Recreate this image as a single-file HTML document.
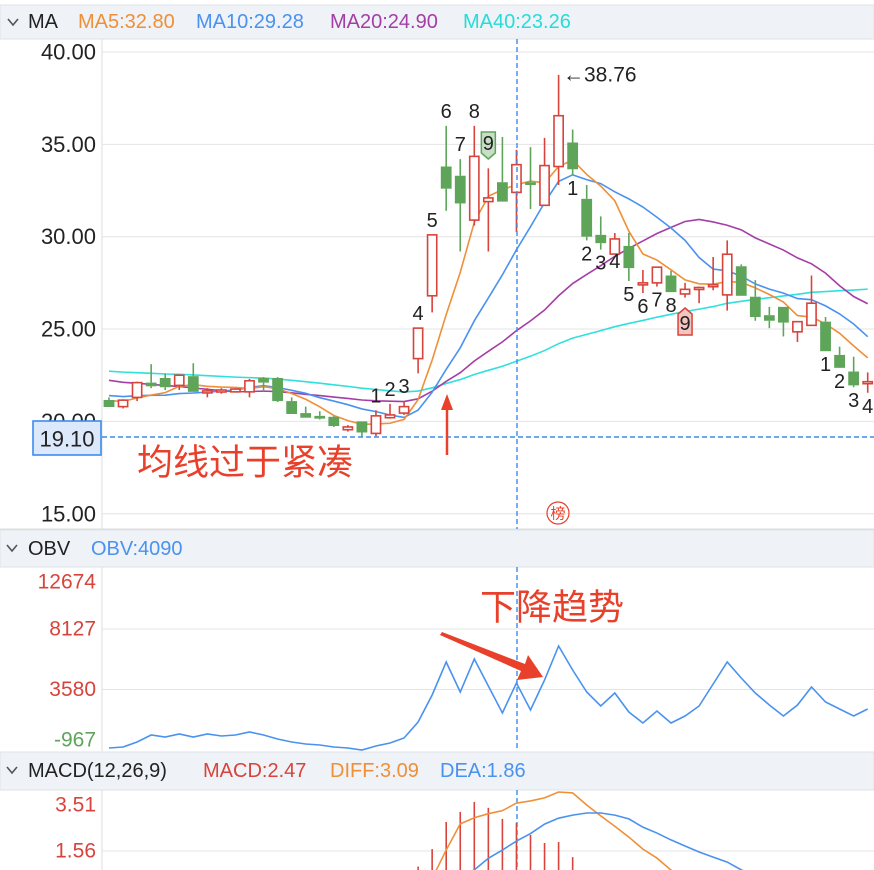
<!DOCTYPE html>
<html><head><meta charset="utf-8"><style>
html,body{margin:0;padding:0;background:#fff;}
svg{display:block;font-family:"Liberation Sans","Noto Sans CJK SC",sans-serif;}
</style></head><body>
<svg id="c" width="874" height="870" viewBox="0 0 874 870">
<rect x="0" y="0" width="874" height="870" fill="#fff"/>
<g id="main"></g>
</svg>
<script>
// ---- data ----
const preCloses=[23.1,23.3,23.2,23.4,23.1,23.0,23.3,23.2,23.4,23.3,23.1,23.2,23.0,23.3,23.4,23.2,23.1,23.3,23.2,23.1,23.3,23.2,23.0,23.2,23.4,23.3,23.1,23.2,23.0,21.8,21.7,21.6,21.7,21.8,21.6,21.3,21.2,21.1,21.2];
const opens=[21.16,20.8,21.3,22.1,22.35,21.95,22.45,21.55,21.6,21.6,21.6,22.35,22.35,21.1,20.45,20.3,20.25,19.55,20.0,19.35,20.2,20.45,23.4,26.8,33.8,33.3,30.9,31.9,32.95,32.4,32.95,31.7,33.8,35.1,32.05,30.1,29.06,29.5,27.45,27.5,27.9,26.9,27.2,27.3,26.85,28.4,26.75,25.75,26.2,24.85,25.2,25.4,23.6,22.7,22.05];
const closes=[20.78,21.15,22.1,21.9,21.85,22.5,21.6,21.65,21.7,21.75,22.2,22.1,21.1,20.4,20.2,20.15,19.75,19.7,19.4,20.3,20.35,20.8,25.05,30.1,32.6,31.8,34.35,32.1,31.9,33.9,32.8,33.85,36.55,33.65,30.0,29.65,29.88,28.3,27.5,28.35,27.0,27.15,27.25,27.4,29.05,26.8,25.65,25.45,25.35,25.4,26.4,23.8,22.9,21.95,22.15];
const highs=[21.3,21.2,22.15,23.1,22.6,22.55,23.15,21.8,21.8,21.8,22.3,22.4,22.4,21.3,20.8,20.55,20.3,19.8,20.0,20.6,20.95,21.1,25.05,30.1,36.0,34.2,36.0,33.7,35.4,34.7,34.85,35.35,38.76,35.8,32.8,31.1,30.2,30.2,28.2,28.35,28.15,27.5,27.3,28.9,29.8,28.5,27.65,26.2,26.2,25.4,27.9,25.65,24.05,23.5,22.65];
const lows=[20.78,20.7,21.1,21.8,21.7,21.7,21.6,21.3,21.5,21.6,21.3,21.6,21.05,20.4,20.2,20.1,19.7,19.45,19.15,19.2,20.15,20.35,22.6,25.9,31.4,29.2,30.6,29.2,31.9,30.25,31.5,31.7,32.8,33.35,29.8,29.3,29.4,27.6,26.95,27.3,27.0,26.7,26.4,27.1,26.0,26.8,25.45,25.05,24.6,24.3,25.2,23.8,22.9,21.85,21.55];
const obv=[-817,-742,-366,160,10,236,10,236,85,160,386,160,-140,-366,-516,-591,-742,-817,-967,-666,-441,-65,1138,3167,5647,3392,5872,3843,1814,4068,2039,4294,6849,5045,3392,2340,3317,1889,1062,1964,1062,1588,2340,3993,5647,4444,3317,2415,1588,2415,3768,2640,2114,1588,2114];
const macdHist=[0,0,0,0,0,0,0,0,0,0,0,0,0,0,0,0,0,0,0,0,0.2,0.4,0.9,1.64,2.79,3.22,3.64,3.39,2.92,2.75,2.24,1.90,1.94,1.30,0.5,0.3,0.1,0,0,0,0,0,0,0,0,0,0,0,0,0,0,0,0,0,0];
const diff=[-0.4,-0.4,-0.4,-0.4,-0.4,-0.4,-0.4,-0.4,-0.4,-0.4,-0.4,-0.4,-0.4,-0.5,-0.5,-0.5,-0.5,-0.5,-0.5,-0.4,-0.3,-0.1,0.2,0.4,1.6,2.71,2.97,3.14,3.27,3.59,3.68,3.81,4.06,4.02,3.51,3.05,2.61,2.15,1.64,1.26,0.75,0.4,0.1,-0.1,-0.2,-0.3,-0.4,-0.5,-0.6,-0.7,-0.7,-0.8,-0.9,-1.0,-1.0];
const dea=[-0.3,-0.3,-0.3,-0.3,-0.3,-0.3,-0.3,-0.3,-0.3,-0.3,-0.3,-0.3,-0.3,-0.3,-0.3,-0.3,-0.3,-0.3,-0.3,-0.3,-0.3,-0.2,-0.1,0.0,0.2,0.45,0.76,1.25,1.6,1.98,2.3,2.7,2.95,3.08,3.17,3.17,3.08,2.92,2.57,2.32,2.03,1.77,1.52,1.3,1.09,0.76,0.5,0.3,0.1,0.0,-0.1,-0.2,-0.3,-0.4,-0.5];
const priceTicks=[40,35,30,25,20,15];
const priceTickLabels=["40.00","35.00","30.00","25.00","20.00","15.00"];
const obvTicks=[12674,8127,3580,-967];
const macdTicks=[3.51,1.56];
const tdUp=[[19,"1"],[20,"2"],[21,"3"],[22,"4"],[23,"5"],[24,"6"],[25,"7"],[26,"8"]];
const tdDown=[[33,"1"],[34,"2"],[35,"3"],[36,"4"],[37,"5"],[38,"6"],[39,"7"],[40,"8"],[51,"1"],[52,"2"],[53,"3"],[54,"4"]];

// ---- scales ----
const xOf=i=>109+14.05*i;
const yP=v=>52+(40-v)*18.47;
const yO=v=>750-(v+967)/4547*60.5;
const yM=v=>851-(v-1.56)*23.6;
const RED="#d8433b",GREEN="#5ea55a";
const NS="http://www.w3.org/2000/svg";
const svg=document.getElementById('c');
function mk(tag,attrs,parent){const e=document.createElementNS(NS,tag);for(const k in attrs)e.setAttribute(k,attrs[k]);(parent||svg).appendChild(e);return e;}
function txt(x,y,s,size,fill,anchor,parent){const t=mk('text',{x:x,y:y,'font-size':size,fill:fill,'text-anchor':anchor||'start','dominant-baseline':'central'},parent);t.textContent=s;return t;}

const defs=mk('defs',{});
[['clipMain',102,40,772,489],['clipObv',102,567,772,184],['clipMacd',102,790,772,80]].forEach(c=>{const cp=mk('clipPath',{id:c[0]},defs);mk('rect',{x:c[1],y:c[2],width:c[3],height:c[4]},cp);});

function header(y,h,name){const b=mk('rect',{x:0,y:y,width:874,height:h,fill:'#eff2f6',stroke:'#dfe2e6','stroke-width':1});}
header(5,34,'ma-header');header(530,37,'obv-header');header(752,38,'macd-header');
function chevron(x,y,name){const p=mk('path',{d:`M${x} ${y-3} L${x+5} ${y+3} L${x+10} ${y-3}`,stroke:'#555',fill:'none','stroke-width':1.6});}
chevron(8,22,'ma-collapse-toggle');chevron(7,548,'obv-collapse-toggle');chevron(7,770,'macd-collapse-toggle');
let t;
t=txt(28,22,'MA',20,'#222');
[[78,'MA5:32.80','#ef8f38','legend-ma5'],[196,'MA10:29.28','#4a92ef','legend-ma10'],[330,'MA20:24.90','#a43ea6','legend-ma20'],[463,'MA40:23.26','#27dcd8','legend-ma40']].forEach(l=>{t=txt(l[0],22,l[1],20,l[2]);});
t=txt(28,549,'OBV',20,'#222');
t=txt(91,549,'OBV:4090',20,'#4a92ef');
t=txt(28,771,'MACD(12,26,9)',20,'#222');
t=txt(203,771,'MACD:2.47',20,RED);
t=txt(330,771,'DIFF:3.09',20,'#ef8f38');
t=txt(440,771,'DEA:1.86',20,'#4a92ef');

mk('line',{x1:102,y1:39,x2:102,y2:529,stroke:'#dcdcdc'});
mk('line',{x1:102,y1:567,x2:102,y2:751,stroke:'#dcdcdc'});
mk('line',{x1:102,y1:790,x2:102,y2:870,stroke:'#dcdcdc'});
mk('line',{x1:0,y1:529,x2:874,y2:529,stroke:'#dcdcdc'});

priceTicks.forEach((v,i)=>{
  const g=mk('line',{x1:102,y1:yP(v),x2:874,y2:yP(v),stroke:'#e4e4e4'});
  
  const l=txt(96,yP(v),priceTickLabels[i],22,'#222','end');
  
});
obvTicks.forEach((v,i)=>{
  if(i>0&&i<3){const g=mk('line',{x1:102,y1:yO(v),x2:874,y2:yO(v),stroke:'#e4e4e4'});}
  const yy=i==0?582:(i==3?740:yO(v));
  const l=txt(96,yy,String(v),21,v<0?GREEN:RED,'end');
  
});
macdTicks.forEach((v,i)=>{
  if(i==1){const g=mk('line',{x1:102,y1:yM(v),x2:874,y2:yM(v),stroke:'#e4e4e4'});}
  const l=txt(96,yM(v),v.toFixed(2),21,RED,'end');
  
});

const all=preCloses.concat(closes),P=preCloses.length;
function ma(n){return closes.map((c,i)=>{let s=0;for(let k=0;k<n;k++)s+=all[P+i-k];return s/n;});}
const gMain=mk('g',{'clip-path':'url(#clipMain)'});
[[40,'#2fe0dc','ma40-line'],[20,'#a43ea6','ma20-line'],[10,'#4a92ef','ma10-line'],[5,'#ef8f38','ma5-line']].forEach(m=>{
  const vals=ma(m[0]);
  const p=mk('polyline',{points:vals.map((v,i)=>xOf(i)+','+yP(v)).join(' '),fill:'none',stroke:m[1],'stroke-width':1.6},gMain);
  
});
closes.forEach((c,i)=>{
  const o=opens[i],up=c>=o,col=up?RED:GREEN,x=xOf(i);
  const g=mk('g',{},gMain);
  
  const top=yP(Math.max(o,c)),bot=yP(Math.min(o,c));
  mk('line',{x1:x,y1:yP(highs[i]),x2:x,y2:top,stroke:col,'stroke-width':1.6},g);
  mk('line',{x1:x,y1:bot,x2:x,y2:yP(lows[i]),stroke:col,'stroke-width':1.6},g);
  const h=Math.max(bot-top,2);
  if(up)mk('rect',{x:x-4.6,y:top,width:9.2,height:h,fill:'#fff',stroke:col,'stroke-width':1.6},g);
  else mk('rect',{x:x-5.4,y:top,width:10.8,height:h,fill:col},g);
});
tdUp.forEach(d=>{const i=d[0];const l=txt(xOf(i),yP(highs[i])-14,d[1],20,'#222','middle',gMain);});
tdDown.forEach(d=>{const i=d[0];const l=txt(xOf(i),yP(lows[i])+14,d[1],20,'#222','middle',gMain);});
(function(){
  let i=27,x=xOf(i),y0=132;
  const g=mk('g',{});
  mk('path',{d:`M${x-7} ${y0} H${x+7} V${y0+21} L${x} ${y0+27} L${x-7} ${y0+21} Z`,fill:'#c8dfc6',stroke:GREEN,'stroke-width':1.5},g);
  txt(x,y0+12,'9',20,'#222','middle',g);
  i=41;x=xOf(i);y0=308;
  const g2=mk('g',{});
  mk('path',{d:`M${x-7} ${y0+6} L${x} ${y0} L${x+7} ${y0+6} V${y0+27} H${x-7} Z`,fill:'#f3c4c0',stroke:RED,'stroke-width':1.5},g2);
  txt(x,y0+16,'9',20,'#222','middle',g2);
})();
t=txt(563,75,'←38.76',21,'#222');
mk('line',{x1:102,y1:437,x2:874,y2:437,stroke:'#3b8cf0','stroke-width':1.4,'stroke-dasharray':'5,3'});
[[39,529],[567,751],[790,870]].forEach(s=>{const l=mk('line',{x1:517,y1:s[0],x2:517,y2:s[1],stroke:'#3b8cf0','stroke-width':1.4,'stroke-dasharray':'5,3'});});
const cb=mk('g',{});
mk('rect',{x:33,y:421,width:68,height:34,fill:'#dce8fb',stroke:'#3b8cf0','stroke-width':1.6},cb);
txt(67,439,'19.10',22,'#222','middle',cb);
t=txt(137,462,'均线过于紧凑',36,'#e8402b');
const ar=mk('g',{});
mk('line',{x1:447,y1:455,x2:447,y2:405,stroke:'#e8402b','stroke-width':2.5},ar);
mk('path',{d:'M441 410 L447 394 L453 410 Z',fill:'#e8402b'},ar);
const bang=mk('g',{});
mk('circle',{cx:558,cy:513,r:11,fill:'none',stroke:'#e8402b','stroke-width':1.2},bang);
txt(558,514,'榜',15,'#e8402b','middle',bang);

const gO=mk('g',{'clip-path':'url(#clipObv)'});
const ol=mk('polyline',{points:obv.map((v,i)=>xOf(i)+','+yO(v)).join(' '),fill:'none',stroke:'#4a92ef','stroke-width':1.6},gO);

t=txt(480,607,'下降趋势',36,'#e8402b');
const ar2=mk('g',{});
mk('path',{d:'M440 635 L442 632 L525 664 L528 655 L543 677 L517 680 L521 671 Z',fill:'#e8402b'},ar2);

const gM=mk('g',{'clip-path':'url(#clipMacd)'});
macdHist.forEach((v,i)=>{if(v<=0)return;const b=mk('line',{x1:xOf(i),y1:yM(v),x2:xOf(i),y2:yM(0),stroke:RED,'stroke-width':1.6},gM);});
const dl=mk('polyline',{points:diff.map((v,i)=>xOf(i)+','+yM(v)).join(' '),fill:'none',stroke:'#ef8f38','stroke-width':1.6},gM);

const el=mk('polyline',{points:dea.map((v,i)=>xOf(i)+','+yM(v)).join(' '),fill:'none',stroke:'#4a92ef','stroke-width':1.6},gM);

</script>
</body></html>
